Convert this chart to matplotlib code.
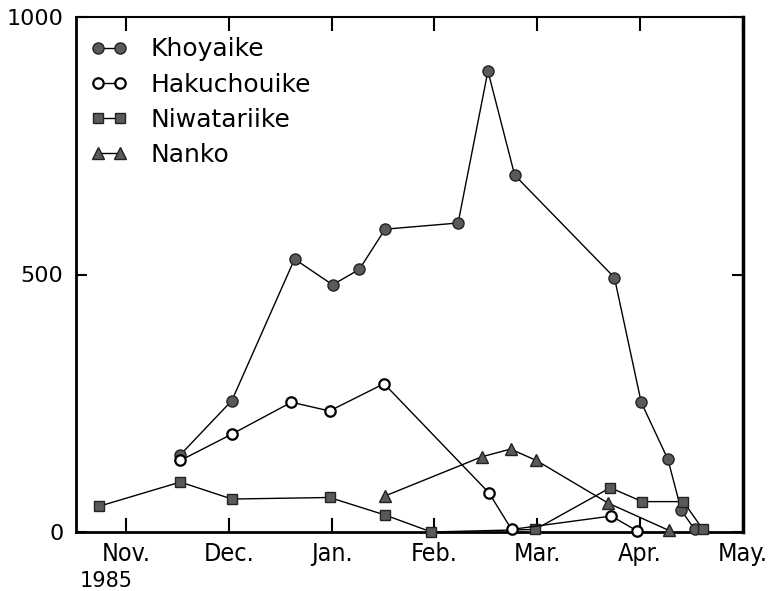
import matplotlib
matplotlib.use("Agg")
import matplotlib.pyplot as plt

# x positions in months after 1 Nov 1985 (0 = Nov. 1, 6 = May 1)
month_labels = ["Nov.", "Dec.", "Jan.", "Feb.", "Mar.", "Apr.", "May."]
month_ticks = [0, 1, 2, 3, 4, 5, 6]

khoyaike_x = [0.53, 1.03, 1.64, 2.01, 2.27, 2.52, 3.23, 3.52, 3.78, 4.75, 5.01, 5.27, 5.40, 5.53]
khoyaike_y = [150, 255, 530, 480, 510, 588, 600, 895, 693, 494, 252, 141, 42, 5]

hakuchouike_x = [0.53, 1.03, 1.61, 1.98, 2.51, 3.53, 3.75, 4.72, 4.97]
hakuchouike_y = [139, 190, 252, 235, 288, 76, 5, 31, 2]

niwatariike_x = [-0.26, 0.53, 1.03, 1.98, 2.52, 2.97, 3.98, 4.71, 5.02, 5.42, 5.61]
niwatariike_y = [50, 97, 64, 67, 33, 0, 5, 86, 59, 59, 5]

nanko_x = [2.52, 3.46, 3.74, 3.99, 4.69, 5.28]
nanko_y = [70, 146, 161, 139, 56, 3]

y_ticks = [0, 500, 1000]

fig = plt.figure(figsize=(7.7, 5.91), dpi=100)
ax = fig.add_axes([76 / 770, 59 / 591, (743 - 76) / 770, (532 - 17) / 591])

fill = "#5a5a5a"
lw = 1.0
ax.plot(khoyaike_x, khoyaike_y, "-o", color="black", lw=lw, ms=8,
        mfc=fill, mec="#222222", mew=1.0, label="Khoyaike", clip_on=False, zorder=3)
ax.plot(hakuchouike_x, hakuchouike_y, "-o", color="black", lw=lw, ms=7.5,
        mfc="white", mec="black", mew=1.6, label="Hakuchouike", clip_on=False, zorder=4)
ax.plot(niwatariike_x, niwatariike_y, "-s", color="black", lw=lw, ms=6.5,
        mfc=fill, mec="#222222", mew=1.0, label="Niwatariike", clip_on=False, zorder=3)
ax.plot(nanko_x, nanko_y, "-^", color="black", lw=lw, ms=8.5,
        mfc=fill, mec="#222222", mew=1.0, label="Nanko", clip_on=False, zorder=3)

ax.set_xlim(-0.485, 5.99)
ax.set_ylim(0, 1000)

ax.set_xticks(month_ticks)
ax.set_xticklabels(month_labels, fontsize=18, fontstretch="condensed")
ax.set_yticks(y_ticks)
ax.set_yticklabels([str(v) for v in y_ticks], fontsize=16)
ax.tick_params(axis="x", direction="in", length=10, width=1.5, top=True, bottom=True, pad=7)
ax.tick_params(axis="y", direction="in", length=8, width=1.5, left=True, right=True, pad=9)

for side, w in [("left", 2.0), ("bottom", 2.0), ("right", 2.5), ("top", 1.5)]:
    ax.spines[side].set_linewidth(w)

leg = ax.legend(loc="upper left", bbox_to_anchor=(0.006, 0.98), frameon=False,
                fontsize=18, numpoints=2, handlelength=1.5, handletextpad=0.9,
                labelspacing=0.45, borderaxespad=0.0, borderpad=0.4)

fig.text(106 / 770, 1 - 581 / 591, "1985", fontsize=15, ha="center", va="center")

fig.savefig("out.png", dpi=100)
